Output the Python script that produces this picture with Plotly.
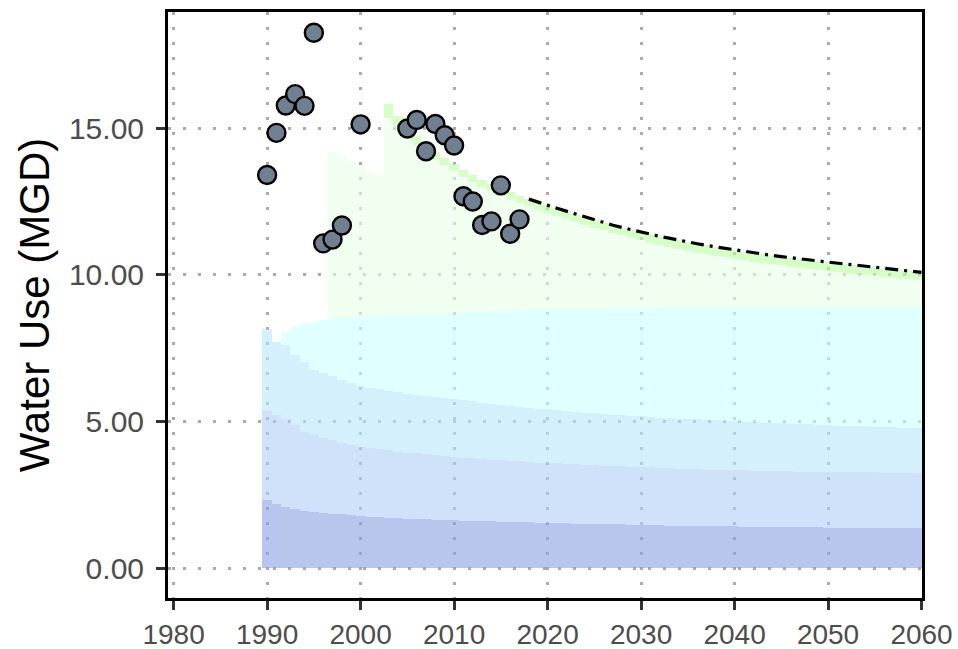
import plotly.graph_objects as go

# ---------------- data ----------------
years = list(range(1990, 2061))

# cumulative top of each stacked band, per year
band1_top = [2.32, 2.18, 2.08, 2.01, 1.95, 1.91, 1.89, 1.86, 1.83, 1.80,
             1.77, 1.75, 1.73, 1.71, 1.70, 1.69, 1.68, 1.67, 1.65, 1.64,
             1.63, 1.62, 1.61, 1.60, 1.59, 1.58, 1.57, 1.56, 1.56, 1.55,
             1.54, 1.53, 1.53, 1.52, 1.51, 1.51, 1.50, 1.49, 1.49, 1.48,
             1.47, 1.47, 1.46, 1.45, 1.45, 1.44, 1.43, 1.43, 1.43, 1.42,
             1.42, 1.41, 1.41, 1.41, 1.40, 1.40, 1.40, 1.39, 1.39, 1.39,
             1.38, 1.38, 1.38, 1.38, 1.37, 1.37, 1.37, 1.37, 1.36, 1.36,
             1.36]
band2_top = [5.35, 5.22, 5.08, 4.88, 4.65, 4.53, 4.44, 4.36, 4.28, 4.21,
             4.14, 4.09, 4.05, 4.01, 3.97, 3.94, 3.91, 3.88, 3.85, 3.82,
             3.80, 3.77, 3.75, 3.72, 3.70, 3.68, 3.66, 3.64, 3.62, 3.60,
             3.59, 3.57, 3.55, 3.54, 3.52, 3.51, 3.49, 3.48, 3.47, 3.45,
             3.44, 3.43, 3.42, 3.40, 3.39, 3.38, 3.37, 3.36, 3.35, 3.35,
             3.34, 3.33, 3.32, 3.32, 3.31, 3.30, 3.30, 3.29, 3.29, 3.28,
             3.28, 3.27, 3.27, 3.26, 3.26, 3.26, 3.25, 3.25, 3.25, 3.24,
             3.24]
band3_top = [8.15, 7.72, 7.60, 7.26, 7.03, 6.75, 6.65, 6.55, 6.43, 6.31,
             6.20, 6.14, 6.09, 6.04, 6.00, 5.95, 5.91, 5.87, 5.84, 5.80,
             5.76, 5.72, 5.68, 5.64, 5.60, 5.56, 5.53, 5.50, 5.47, 5.44,
             5.41, 5.38, 5.35, 5.33, 5.30, 5.28, 5.25, 5.23, 5.21, 5.19,
             5.17, 5.15, 5.13, 5.12, 5.10, 5.08, 5.07, 5.05, 5.04, 5.02,
             5.01, 4.99, 4.98, 4.96, 4.95, 4.94, 4.92, 4.91, 4.90, 4.89,
             4.87, 4.86, 4.85, 4.84, 4.83, 4.82, 4.81, 4.80, 4.79, 4.78,
             4.77]
band4_start = 1992
band4_top = [8.06, 8.22, 8.32, 8.40, 8.45, 8.49, 8.52, 8.55,             # 1992-1999
             8.57, 8.59, 8.60, 8.62, 8.63, 8.64, 8.65, 8.66, 8.68, 8.69, # 2000s
             8.70, 8.71, 8.73, 8.74, 8.75, 8.77, 8.78, 8.78, 8.79, 8.80, # 2010s
             8.81, 8.82, 8.83, 8.83, 8.84, 8.85, 8.85, 8.86, 8.86, 8.87, # 2020s
             8.87, 8.88, 8.88, 8.89, 8.89, 8.90, 8.90, 8.90, 8.90, 8.90, # 2030s
             8.90, 8.90, 8.90, 8.90, 8.90, 8.90, 8.90, 8.90, 8.90, 8.90, # 2040s
             8.90, 8.90, 8.90, 8.90, 8.90, 8.90, 8.90, 8.90, 8.90, 8.90, # 2050s
             8.90]                                                       # 2060
band5_start = 1997
band5_top = [14.20, 14.03, 13.86,
             13.64, 13.51, 13.36, 15.34, 15.05, 14.72, 14.42, 14.17, 13.94, 13.74,
             13.54, 13.35, 13.17, 13.00, 12.85, 12.70, 12.57, 12.44, 12.33, 12.22,
             12.11, 12.01, 11.91, 11.81, 11.71, 11.61, 11.52, 11.43, 11.34, 11.25,
             11.17, 11.09, 11.02, 10.95, 10.88, 10.82, 10.76, 10.70, 10.65, 10.59,
             10.54, 10.49, 10.45, 10.40, 10.36, 10.32, 10.28, 10.24, 10.21, 10.17,
             10.14, 10.11, 10.07, 10.04, 10.01, 9.98, 9.94, 9.91, 9.87, 9.84,
             9.81]
band6_start = 2003
band6_top = [15.84, 15.42, 15.05, 14.72, 14.45, 14.20, 13.98,
             13.78, 13.58, 13.40, 13.23, 13.08, 12.94, 12.81, 12.68, 12.58, 12.47,
             12.37, 12.27, 12.17, 12.07, 11.98, 11.87, 11.78, 11.69, 11.61, 11.53,
             11.45, 11.38, 11.31, 11.25, 11.18, 11.12, 11.06, 11.00, 10.95, 10.89,
             10.84, 10.79, 10.75, 10.70, 10.66, 10.62, 10.58, 10.54, 10.50, 10.46,
             10.43, 10.40, 10.36, 10.33, 10.29, 10.26, 10.22, 10.19, 10.15, 10.12,
             10.08]

proj_years = list(range(2018, 2061))
proj_values = [12.58, 12.47, 12.37, 12.27, 12.17, 12.07, 11.98, 11.87, 11.78,
               11.69, 11.61, 11.53, 11.45, 11.38, 11.31, 11.25, 11.18, 11.12,
               11.06, 11.00, 10.95, 10.89, 10.84, 10.79, 10.75, 10.70, 10.66,
               10.62, 10.58, 10.54, 10.50, 10.46, 10.43, 10.40, 10.36, 10.33,
               10.29, 10.26, 10.22, 10.19, 10.15, 10.12, 10.08]

obs_years = [1990, 1991, 1992, 1993, 1994, 1995, 1996, 1997, 1998, 2000,
             2005, 2006, 2007, 2008, 2009, 2010, 2011, 2012, 2013, 2014,
             2015, 2016, 2017]
obs_values = [13.40, 14.84, 15.77, 16.16, 15.76, 18.25, 11.07, 11.20, 11.68, 15.13,
              14.99, 15.28, 14.21, 15.14, 14.76, 14.41, 12.68, 12.50, 11.70, 11.82,
              13.05, 11.40, 11.89]

x_ticks = [1980, 1990, 2000, 2010, 2020, 2030, 2040, 2050, 2060]
y_ticks = [0, 5, 10, 15]
y_ticktext = ["0.00", "5.00", "10.00", "15.00"]

band_colors = ["rgba(137,160,227,0.6)", "rgba(177,207,247,0.6)",
               "rgba(183,230,250,0.6)", "rgba(203,255,255,0.6)",
               "rgba(230,255,230,0.6)", "rgba(187,255,163,0.6)"]

# ---------------- build ----------------
def pad(start, vals, below):
    n = start - years[0]
    out = below[:n] + vals
    assert len(out) == len(years), (start, len(out))
    return out

for lst in (band1_top, band2_top, band3_top):
    assert len(lst) == len(years)
assert len(proj_values) == len(proj_years)

b4 = pad(band4_start, band4_top, band3_top)
b5 = pad(band5_start, band5_top, b4)
b6 = pad(band6_start, band6_top, b5)
tops = [band1_top, band2_top, band3_top, b4, b5, b6]

# thickness of each band = difference of consecutive tops
lower = [0.0] * len(years)
thickness = []
for top in tops:
    thickness.append([max(round(t - l, 4), 0.0) for t, l in zip(top, lower)])
    lower = top

fig = go.Figure()
for th, col in zip(thickness, band_colors):
    fig.add_trace(go.Bar(
        x=years, y=th, width=1.0,
        marker=dict(color=col, line=dict(width=0)),
        hoverinfo="skip", showlegend=False))

fig.add_trace(go.Scatter(
    x=proj_years, y=proj_values, mode="lines",
    line=dict(color="black", width=3.2, dash="13px,6px,3px,6px"),
    showlegend=False))

fig.add_trace(go.Scatter(
    x=obs_years, y=obs_values, mode="markers",
    marker=dict(size=18, color="#708090", line=dict(color="black", width=2.4)),
    showlegend=False))

FONT = "Liberation Sans, Arial, sans-serif"
axis_common = dict(
    showline=True, mirror=True, linecolor="black", linewidth=3,
    ticks="outside", ticklen=9, tickwidth=2.8, tickcolor="#333333",
    showgrid=True, gridcolor="#ababab", gridwidth=3, griddash="3px,12px",
    zeroline=False, automargin=False,
)

fig.update_layout(
    width=958, height=649,
    margin=dict(l=168, r=36, t=12, b=51),
    paper_bgcolor="white", plot_bgcolor="white",
    barmode="stack", bargap=0,
    xaxis=dict(range=[1979.4, 2060.05], tickvals=x_ticks, ticklabelstandoff=0,
               tickfont=dict(family=FONT, size=28, color="#4d4d4d"),
               **axis_common),
    yaxis=dict(range=[-1.02, 18.96], tickvals=y_ticks, ticktext=y_ticktext,
               ticklabelstandoff=6,
               tickfont=dict(family=FONT, size=30, color="#4d4d4d"),
               title=dict(text="Water Use (MGD)", standoff=7,
                          font=dict(family=FONT, size=42, color="black")),
               **axis_common),
)

fig.write_html("out.html", config={"displayModeBar": False},
               post_script="document.body.style.margin='0';document.body.style.padding='0';")
